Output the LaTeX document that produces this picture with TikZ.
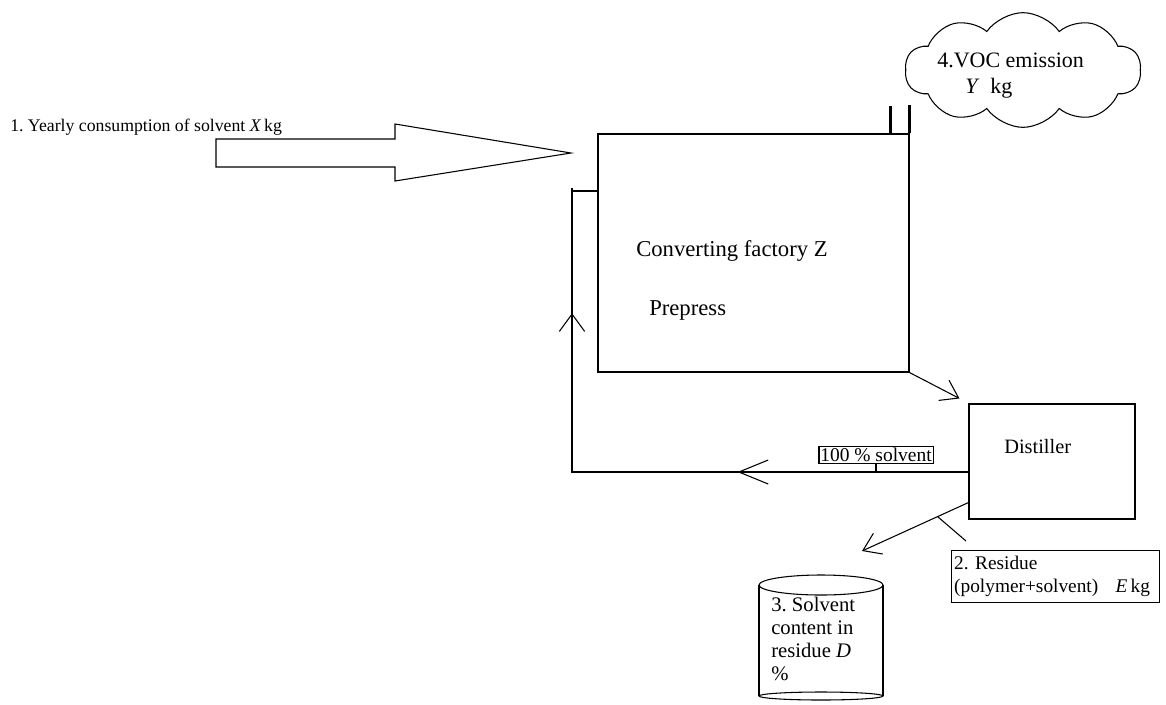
\documentclass[tikz,border=0pt]{standalone}
\usepackage{fontspec}
\setmainfont{Liberation Serif}
\usepackage{tikz}
\usetikzlibrary{calc}
\usetikzlibrary{fit}
\usetikzlibrary{arrows.meta}
\usetikzlibrary{shapes.symbols}
\usetikzlibrary{decorations.markings}
\frenchspacing

\begin{document}
\begin{tikzpicture}[x=0.75pt,y=-0.75pt]
	\tikzstyle{every node}=[font=\fontsize{14}{17}\selectfont, inner sep=0pt]
	\tikzstyle{line}=[draw, line width=0.8pt]
	\tikzstyle{unit}=[draw, line width=0.8pt, inner sep=0pt]
	\tikzstyle{barb}=[-{Straight Barb[length=12.5pt,width=17pt]}]
	\tikzstyle{stack}=[line width=2.6pt]
	
	\useasboundingbox (0,0) rectangle (1166,704);
	
	% solvent intake
	\node[anchor=west, font=\fontsize{13.3}{15}\selectfont] (consumption) at (10,127) {1. Yearly consumption of solvent \textit{X}\,kg};
	\draw[line] (216,139) -- (395,139) -- (395,124) -- (571,153) -- (395,181) -- (395,167) -- (216,167) -- cycle;
	
	% converting plant with its stack
	\node[unit, fit={(598,134) (909,372)}] (factory) {};
	\node[anchor=west, font=\fontsize{17}{20}\selectfont] (plant) at (636,251) {Converting factory Z};
	\node[anchor=west, font=\fontsize{17}{20}\selectfont] (prepress) at (649,310) {Prepress};
	\draw[stack] (factory.north east) -- ++(0,-28);
	\draw[stack] ($(factory.north east)+(-19,0)$) -- ++(0,-27);
	
	\node[cloud, draw, line width=0.8pt, cloud puffs=10, cloud puff arc=110, aspect=2.1, minimum width=177pt, minimum height=86pt] (voc) at (1023,70) {};
	\node[anchor=west, align=left, font=\fontsize{16.5}{19.5}\selectfont] (emission) at (937,76) {4.VOC emission\\\hspace*{21pt}\textit{Y}\ \ kg};
	
	% distiller and recycled solvent
	\node[unit, fit={(969,404) (1135,519)}] (distiller) {};
	\node[anchor=west, font=\fontsize{15.3}{18}\selectfont] (dname) at (1004,447) {Distiller};
	
	\coordinate (ret) at (572,472);
	\coordinate (feed) at (598,191);
	\draw[line, postaction={decorate}, decoration={markings,
		mark=at position 0.327 with {\arrow{Straight Barb[length=22pt,width=18pt]}},
		mark=at position 0.786 with {\arrow{Straight Barb[length=13pt,width=19pt]}}}]
		(distiller.west |- ret) -- (ret) -- (572,188) (572,191) -- (feed);
	
	\node[draw, line width=0.8pt, inner sep=1pt, font=\fontsize{14.6}{16}\selectfont] (pure) at (876,455) {100 \% solvent};
	\draw[line] (pure.south) -- (pure.south |- ret);
	
	\draw[line, barb] (factory.south east) -- ($(distiller.north west)+(-9,-5)$);
	
	% residue
	\coordinate (resout) at ($(distiller.south west)+(0,-17)$);
	\coordinate (restip) at (862,551);
	\draw[line, barb] (resout) -- (restip);
	\node[draw, line width=0.8pt, anchor=north west, align=left, inner sep=2pt, text width=152pt, minimum height=39pt, font=\fontsize{14.5}{17}\selectfont] (residue) at (951,550) {2. Residue\\(polymer+solvent)\hspace{0.9em}\textit{E}\,kg};
	\draw[line] ($(resout)!0.29!(restip)$) -- ($(residue.north west)+(15,-9)$);
	
	% drum
	\draw[line] (759,585) -- (759,696);
	\draw[line] (883,585) -- (883,696);
	\draw[line] (821,585) ellipse (46.5pt and 7.5pt);
	\draw[line] (821,696) ellipse (46.5pt and 3pt);
	\node[anchor=north west, align=left, font=\fontsize{15.5}{17.25}\selectfont] (drum) at (771,597) {3. Solvent\\content in\\residue \textit{D}\\\%};
	
\end{tikzpicture}
\end{document}
